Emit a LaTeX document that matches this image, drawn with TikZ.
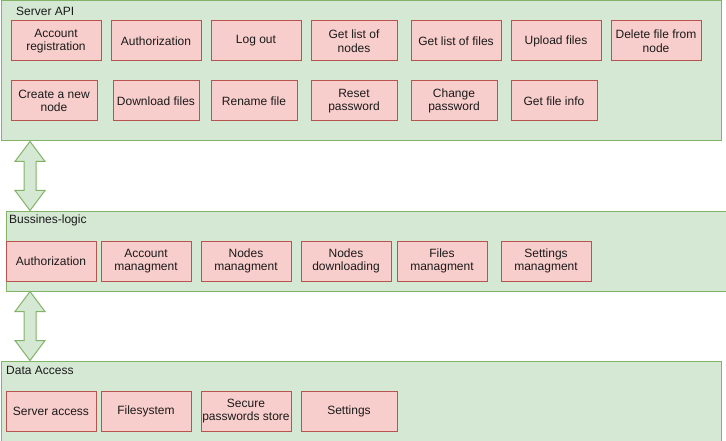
\documentclass[tikz,border=0pt]{standalone}
\usepackage{fontspec}
\setmainfont{Liberation Sans}
\usetikzlibrary{calc}
\definecolor{gfill}{HTML}{D5E8D4}
\definecolor{gline}{HTML}{82B366}
\definecolor{rfill}{HTML}{F8CECC}
\definecolor{rline}{HTML}{B85450}
\definecolor{txt}{HTML}{1A1A1A}
\tikzset{
  layer/.style={draw=gline, fill=gfill, line width=1pt, anchor=north west, inner sep=0pt},
  item/.style={draw=rline, fill=rfill, line width=1pt, anchor=north west, inner sep=1pt,
    minimum height=40pt, align=center, text=txt, font=\fontsize{12}{13.5}\selectfont},
  ltitle/.style={anchor=west, inner sep=0pt, text=txt, font=\fontsize{12}{13.5}\selectfont},
  bigarrow/.style={draw=gline, fill=gfill, line width=1pt, line join=miter}
}
\begin{document}
\begin{tikzpicture}[x=1pt,y=-1pt]
\useasboundingbox (0,0) rectangle (726,441);
\fill[white] (0,0) rectangle (726,441);
% containers
\node[layer, minimum width=720pt, minimum height=140pt] (api) at (0.5,0.5) {};
\node[layer, minimum width=720pt, minimum height=80pt] (bl) at (5.5,210.5) {};
\node[layer, minimum width=720pt, minimum height=80pt] (da) at (0.5,360.5) {};
\node[ltitle] (apiT) at (16,11) {Server API};
\node[ltitle] (blT) at (9,220) {Bussines-logic};
\node[ltitle] (daT) at (6,370) {Data Access};
% Server API row 1
\node[item, minimum width=90pt] (a1) at (10.5,20.5) {Account\\registration};
\node[item, minimum width=90pt] (a2) at (110.5,20.5) {Authorization};
\node[item, minimum width=90pt] (a3) at (210.5,20.5) {Log out};
\node[item, minimum width=86pt] (a4) at (310.5,20.5) {Get list of\\nodes};
\node[item, minimum width=90pt] (a5) at (410.5,20.5) {Get list of files};
\node[item, minimum width=90pt] (a6) at (510.5,20.5) {Upload files};
\node[item, minimum width=90pt] (a7) at (610.5,20.5) {Delete file from\\node};
% Server API row 2
\node[item, minimum width=86pt] (b1) at (10.5,80.5) {Create a new\\node};
\node[item, minimum width=86pt] (b2) at (112.5,80.5) {Download files};
\node[item, minimum width=86pt] (b3) at (210.5,80.5) {Rename file};
\node[item, minimum width=86pt] (b4) at (310.5,80.5) {Reset\\password};
\node[item, minimum width=86pt] (b5) at (410.5,80.5) {Change\\password};
\node[item, minimum width=86pt] (b6) at (510.5,80.5) {Get file info};
% Business logic
\node[item, minimum width=90pt] (c1) at (5.5,240.5) {Authorization};
\node[item, minimum width=90pt] (c2) at (100.5,240.5) {Account\\managment};
\node[item, minimum width=90pt] (c3) at (200.5,240.5) {Nodes\\managment};
\node[item, minimum width=90pt] (c4) at (300.5,240.5) {Nodes\\downloading};
\node[item, minimum width=90pt] (c5) at (396.5,240.5) {Files\\managment};
\node[item, minimum width=90pt] (c6) at (500.5,240.5) {Settings\\managment};
% Data access
\node[item, minimum width=90pt] (d1) at (5.5,390.5) {Server access};
\node[item, minimum width=90pt] (d2) at (100.5,390.5) {Filesystem};
\node[item, minimum width=90pt] (d3) at (200.5,390.5) {Secure\\passwords store};
\node[item, minimum width=96pt] (d4) at (300.5,390.5) {Settings};
% double arrows between layers
\coordinate (ax) at ($(api.south west)+(29.5,0)$);
\foreach \up/\dn in {api/bl, bl/da}{
  \coordinate (t) at (ax |- \up.south);
  \coordinate (s) at (ax |- \dn.north);
  \draw[bigarrow] (t) -- ++(15,20) -- ++(-9,0) -- ($(s)+(6,-20)$) -- ++(9,0) -- (s)
    -- ++(-15,-20) -- ++(9,0) -- ($(t)+(-6,20)$) -- ++(-9,0) -- cycle;
}
\end{tikzpicture}
\end{document}
